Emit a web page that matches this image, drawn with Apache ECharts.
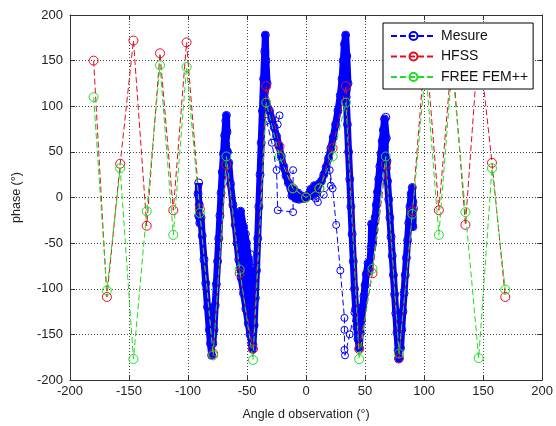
<!DOCTYPE html>
<html><head><meta charset="utf-8">
<script src="https://cdn.jsdelivr.net/npm/echarts@6/dist/echarts.min.js"></script>
<style>html,body{margin:0;padding:0;background:#fff}#c{width:556px;height:426px}</style>
</head><body><div id="c"></div>
<script>
// Simulation angles (deg)
const simAngles = [-180, -168.75, -157.5, -146.25, -135, -123.75, -112.5, -101.25, -90, -78.75, -67.5, -56.25, -45, -33.75, -22.5, -11.25, 0, 11.25, 22.5, 33.75, 45, 56.25, 67.5, 78.75, 90, 101.25, 112.5, 123.75, 135, 146.25, 157.5, 168.75];
const hfssPhase = [150, -109, 37, 172, -31, 158, -14, 170, -13, -171, 36, -83, -166, 122, 56, 10, 0, 10, 54, 122, -166, -83, 36, -176, -15, 170, -14, 158, -30, 172, 38, -109];
const femPhase  = [110, -102, 32, -177, -15, 145, -41, 143, -17, -173, 45, -79, -178, 104, 45, 10, 0, 10, 45, 104, -177, -78, 45, -171, -18, 143, -41, 145, -16, -176, 32, -101];

// Measurement (main sweep)
const mesureAngle = [-91, -91.5, -90.5, -91, -90, -89, -88, -86.5, -85, -83.5, -82, -81, -80, -80.5, -79.5, -79, -78, -77, -76, -75, -74, -73, -72, -71, -70, -69, -68, -67.5, -67, -68, -66.5, -67.5, -65.5,
  -64, -62, -60, -58.5, -57, -55, -53, -51, -49, -47.5, -46, -45.5,
  -44.5, -45, -46.5, -48.5, -50.5, -53, -55.5,
  -52, -48, -46, -45,
  -44, -43, -42, -41, -40, -39, -38, -37, -36, -35, -34.5,
  -34, -33, -35.5, -33, -31, -29, -27, -25, -23, -21, -19, -17, -15, -13, -12, -10, -9, -7, -6, -4, -2, 0,
  2, 4, 5, 7, 9, 11, 13, 15, 17, 19, 21, 23, 25, 27, 29, 30.5, 31.5, 32.5, 33.5, 34.5, 35.5, 34,
  35, 36, 37, 38, 39, 40, 41, 42, 43, 44, 45,
  46, 47, 48, 49, 50, 51, 52.5, 53.5, 55, 55.5, 56.5, 57.5, 58.5, 59.5, 60.5, 61.5, 62.5, 63.5, 64.5, 65.5, 66.5, 67.5, 68, 66.5, 68.5, 68,
  69, 70, 71, 72, 73, 74, 75, 76, 77, 78, 78.5, 79, 78.5, 80,
  81, 82, 83, 84, 85, 86, 87, 88, 89, 90, 90.5, 89.5, 90.5, 91];
const mesurePhase = [16, 4, -8, -20, -28, -22, -42, -68, -94, -120, -145, -160, -173, -150, -125, -160, -145, -118, -95, -70, -45, -20, 5, 28, 48, 68, 84, 90, 72, 58, 50, 42, 38,
  15, -8, -30, -50, -68, -88, -105, -122, -138, -150, -160, -166,
  -140, -115, -95, -70, -50, -32, -15,
  -60, -110, -150, -162,
  -140, -110, -80, -45, -10, 25, 60, 95, 130, 160, 178,
  150, 125, 110, 100, 95, 86, 77, 67, 57, 45, 34, 24, 16, 10, 2, 8, -1, 5, -2, 2, -1, 0,
  3, 9, 2, 13, 5, 15, 18, 25, 33, 43, 54, 66, 80, 95, 112, 130, 150, 168, 178, 155, 125, 110,
  80, 50, 20, -10, -40, -70, -100, -122, -142, -155, -165,
  -148, -134, -120, -108, -96, -84, -72, -80, -55, -29, -50, -36, -22, -8, 6, 20, 34, 48, 62, 74, 86, 88, 65, 55, 40, 32,
  18, -2, -22, -43, -64, -85, -106, -127, -148, -168, -177, -150, -128, -165,
  -145, -125, -105, -85, -66, -47, -28, -10, 4, 11, -5, -18, -32, -12];

// Measurement (stray sweeps), null = break
const strayAngle = [-33.5, -29, -25, -24, -11, -11, null, -22.5, -24, null, -51, -47, -46, -47, -45.5, null, 8, 10, 15, 21, 20, 22.5, 25.5, 29, 32.5, 32.5, 32.5, 33, 37, 41];
const strayPhase = [84, 60, 30, -14, -16, 30, null, 90, 80, null, -40, -62, -70, -80, -90, null, -1, -5, 3, 13, 30, 10, -30, -80, -132, -145, -167, -173, -150, -126];

const pairs = (a, b) => a.map((x, i) => (x === null || b[i] === null) ? ['-', '-'] : [x, b[i]]);

const FONT = 'Liberation Sans, Arial, sans-serif';
const BLUE = '#0000ff', RED = '#e01020', GREEN = '#22dd22';
const axisCommon = {
  type: 'value', min: -200, max: 200, interval: 50,
  axisLine: { show: true, onZero: false, lineStyle: { color: '#333', width: 1 } },
  axisTick: { show: true, inside: true, length: 5, lineStyle: { color: '#333' } }
};

const chart = echarts.init(document.getElementById('c'), null, { renderer: 'canvas' });
chart.setOption({
  animation: false,
  backgroundColor: '#fff',
  grid: { left: 70, right: 13, top: 15, bottom: 41, containLabel: false },
  xAxis: [
    Object.assign({}, axisCommon, {
      position: 'bottom',
      name: 'Angle d observation (°)', nameLocation: 'middle', nameGap: 28,
      nameTextStyle: { fontSize: 12.5, color: '#222', fontFamily: FONT },
      axisLabel: { fontSize: 13, color: '#222', margin: 5, fontFamily: FONT },
      splitLine: { show: true, lineStyle: { color: '#444', type: [1, 2], width: 1 } }
    }),
    Object.assign({}, axisCommon, {
      position: 'top', axisLabel: { show: false }, splitLine: { show: false }
    })
  ],
  yAxis: [
    Object.assign({}, axisCommon, {
      position: 'left',
      name: 'phase (°)', nameLocation: 'middle', nameGap: 47,
      nameTextStyle: { fontSize: 12.5, color: '#222', fontFamily: FONT },
      axisLabel: { fontSize: 13, color: '#222', margin: 7, fontFamily: FONT },
      splitLine: { show: true, lineStyle: { color: '#444', type: [1, 2], width: 1 } }
    }),
    Object.assign({}, axisCommon, {
      position: 'right', axisLabel: { show: false }, splitLine: { show: false }
    })
  ],
  legend: {
    data: ['Mesure', 'HFSS', 'FREE FEM++'],
    orient: 'vertical', left: 383, top: 23, z: 20,
    itemWidth: 45, itemHeight: 10, itemGap: 6.5,
    padding: [6, 5, 5, 7],
    borderColor: '#000', borderWidth: 1, backgroundColor: '#fff',
    textStyle: { fontSize: 14, color: '#111', fontFamily: FONT }
  },
  series: [
    {
      name: 'Mesure', type: 'line', data: pairs(mesureAngle, mesurePhase),
      symbol: 'circle', symbolSize: 8, z: 3,
      itemStyle: { color: 'rgba(0,0,0,0)', borderColor: BLUE, borderWidth: 1 },
      lineStyle: { color: BLUE, width: 1, type: [6, 3] }
    },
    {
      name: 'Mesure', type: 'line', data: pairs(mesureAngle, mesurePhase),
      symbol: 'none', z: 1, silent: true,
      lineStyle: { color: BLUE, width: 7, join: 'round' }
    },
    {
      name: 'Mesure', type: 'line', data: pairs(strayAngle, strayPhase),
      symbol: 'circle', symbolSize: 7, z: 3, connectNulls: false,
      itemStyle: { color: 'rgba(0,0,0,0)', borderColor: BLUE, borderWidth: 1 },
      lineStyle: { color: BLUE, width: 1, type: [6, 3] }
    },
    {
      name: 'HFSS', type: 'line', data: pairs(simAngles, hfssPhase),
      symbol: 'circle', symbolSize: 9, z: 4,
      itemStyle: { color: 'rgba(0,0,0,0)', borderColor: RED, borderWidth: 1 },
      lineStyle: { color: RED, width: 1, type: [6, 3] }
    },
    {
      name: 'FREE FEM++', type: 'line', data: pairs(simAngles, femPhase),
      symbol: 'circle', symbolSize: 9, z: 5,
      itemStyle: { color: 'rgba(0,0,0,0)', borderColor: GREEN, borderWidth: 1 },
      lineStyle: { color: GREEN, width: 1, type: [6, 3] }
    }
  ]
});
</script>
</body></html>
